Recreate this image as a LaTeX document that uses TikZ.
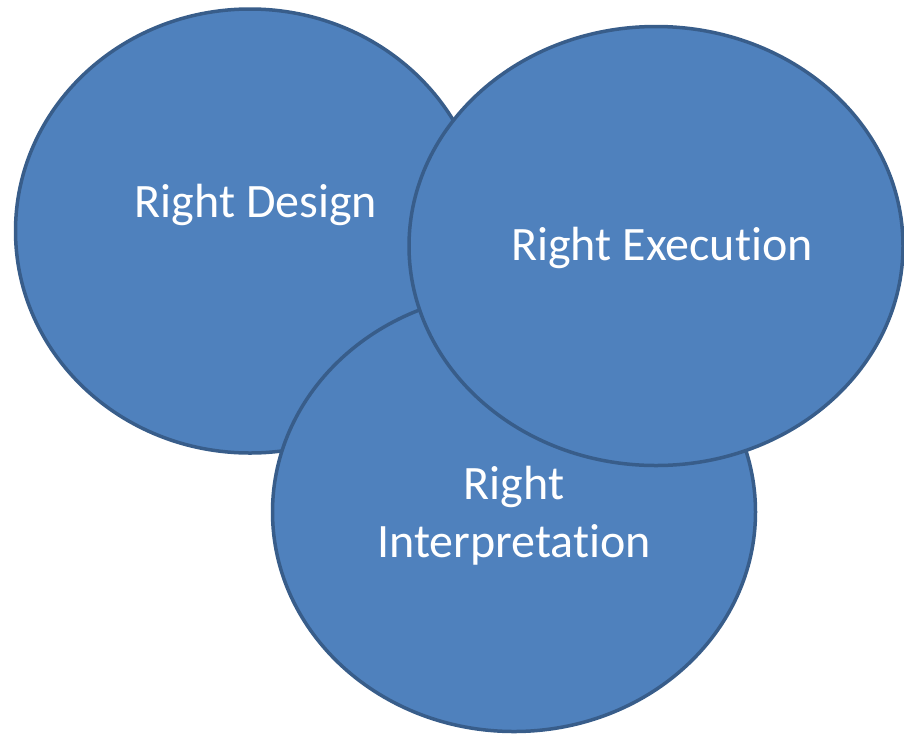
\documentclass[tikz,border=0pt]{standalone}
\usepackage{fontspec}
\setmainfont[Ligatures={NoCommon,NoRequired,NoContextual,NoRare},Contextuals=NoAlternate,
  RawFeature={-ccmp}]{Carlito}
\usetikzlibrary{shapes.geometric}
\definecolor{blobfill}{HTML}{4F81BD}
\definecolor{blobline}{HTML}{385D8A}

\begin{document}
\begin{tikzpicture}[x=1pt, y=-1pt,
  blob/.style={ellipse, draw=blobline, fill=blobfill, line width=3.5pt, inner sep=0pt},
  blobtext/.style={text=white, font=\fontsize{48}{58}\selectfont, align=center}]
\useasboundingbox (0,0) rectangle (904,737);

\node (design) at (250,231) [blob, minimum width=469pt, minimum height=444pt] {};
\node (interp) at (514,512) [blob, minimum width=483pt, minimum height=439pt] {};
\node (exec)   at (656,246) [blob, minimum width=494pt, minimum height=439pt] {};

\node (designtxt) at (256,205) [blobtext] {Right Design};
\node (exectxt)   at (662,248) [blobtext] {Right Execution};
\node (interptxt) at (514,516) [blobtext] {Right\\Interpretation};
\end{tikzpicture}
\end{document}
